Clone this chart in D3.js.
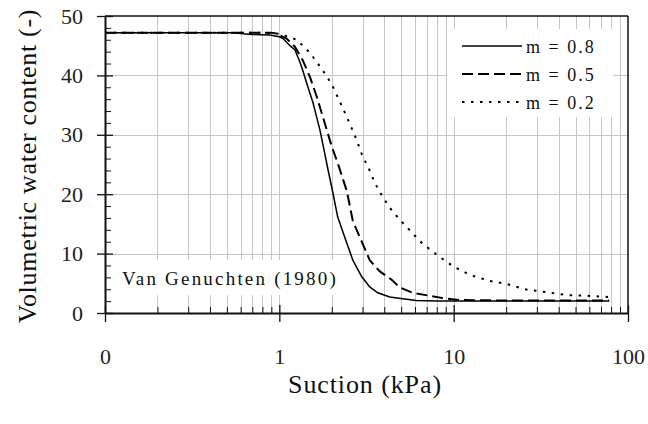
<!DOCTYPE html>
<html><head><meta charset="utf-8">
<script src="https://cdn.jsdelivr.net/npm/d3@7/dist/d3.min.js"></script>
<style>
body{margin:0;background:#fff}
svg{display:block}
</style></head>
<body><svg id="chart" width="648" height="424"></svg>
<script>
// ---- data ----
const xTickValues = [0.1, 1, 10, 100];
const xTickLabels = ["0", "1", "10", "100"];
const yTickValues = [0, 10, 20, 30, 40, 50];
const seriesNames = ["m = 0.8", "m = 0.5", "m = 0.2"];
const annotation = "Van Genuchten (1980)";

const suctionM08 = [0.1, 0.55, 0.62, 0.70, 0.88, 1.0, 1.05, 1.15, 1.23, 1.31, 1.36, 1.46, 1.56, 1.71, 1.82, 1.90, 2.03, 2.16, 2.37, 2.64, 2.97, 3.30, 3.67, 4.30, 5.1, 6.1, 8.0, 10, 20, 40, 78];
const thetaM08   = [47.2, 47.2, 47.0, 46.9, 46.8, 46.5, 46.2, 45.0, 44.3, 42.3, 40.9, 38.0, 35.4, 30.8, 26.9, 24.2, 20.2, 16.2, 12.8, 8.9, 6.1, 4.4, 3.4, 2.7, 2.4, 2.1, 2.0, 2.0, 2.0, 2.0, 2.0];

const suctionM05 = [0.1, 0.9, 0.97, 1.1, 1.23, 1.36, 1.50, 1.64, 1.82, 2.00, 2.16, 2.44, 2.64, 2.97, 3.30, 3.77, 4.41, 4.91, 5.82, 7.28, 9.12, 10.8, 20, 40, 78];
const thetaM05   = [47.2, 47.2, 47.0, 46.2, 44.8, 42.6, 39.7, 36.4, 32.0, 28.0, 25.3, 20.5, 15.5, 12.0, 8.9, 7.0, 5.6, 4.3, 3.4, 2.9, 2.4, 2.2, 2.1, 2.1, 2.1];

const suctionM02 = [0.1, 0.8, 1.0, 1.26, 1.50, 1.77, 2.00, 2.22, 2.44, 2.78, 3.01, 3.22, 3.53, 3.92, 4.41, 4.91, 5.74, 6.56, 8.0, 9.87, 12.4, 16.1, 20.1, 25.5, 34.1, 45.0, 57.8, 78];
const thetaM02   = [47.2, 47.2, 47.0, 46.0, 43.8, 40.9, 38.5, 35.6, 33.0, 29.1, 26.3, 24.7, 21.9, 19.5, 17.3, 15.7, 13.6, 11.8, 9.8, 7.9, 6.4, 5.4, 4.9, 4.0, 3.5, 3.0, 2.9, 2.7];

const seriesSuction = [suctionM08, suctionM05, suctionM02];
const seriesTheta = [thetaM08, thetaM05, thetaM02];
const seriesDash = [null, "11,5", "2.5,6.5"];
const seriesWidth = [1.5, 2, 2];

// ---- layout ----
const FONT = "'Liberation Serif', 'Times New Roman', serif";
const svg = d3.select("#chart");
const L = 105, R = 628, T = 16, B = 313;
const x = d3.scaleLog().domain([0.1, 100]).range([L, R]);
const y = d3.scaleLinear().domain([0, 50]).range([B, T]);

const xMinor = [];
for (let d = 0.1; d < 100; d *= 10) for (let k = 2; k <= 9; k++) xMinor.push(+(d * k).toPrecision(3));
const yMinor = d3.range(0, 51, 2).filter(v => v % 10 !== 0);

// grid
const grid = svg.append("g").attr("stroke", "#c6c6c6").attr("stroke-width", 1).attr("shape-rendering", "crispEdges");
grid.selectAll(".vx").data(xMinor.concat([1, 10])).enter().append("line")
  .attr("x1", d => Math.round(x(d)) + 0.5).attr("x2", d => Math.round(x(d)) + 0.5)
  .attr("y1", T).attr("y2", B);
grid.selectAll(".hy").data([10, 20, 30, 40]).enter().append("line")
  .attr("x1", L).attr("x2", R)
  .attr("y1", d => Math.round(y(d)) + 0.5).attr("y2", d => Math.round(y(d)) + 0.5);

// white boxes for legend and annotation
svg.append("rect").attr("x", 447).attr("y", 29).attr("width", 166).attr("height", 88).attr("fill", "#fff");
svg.append("rect").attr("x", 107).attr("y", 260).attr("width", 234).attr("height", 35).attr("fill", "#fff");

// curves
const line = d3.line().x(d => x(d[0])).y(d => y(d[1]));
seriesSuction.forEach((s, i) => {
  const pts = s.map((v, j) => [v, seriesTheta[i][j]]);
  svg.append("path").datum(pts).attr("d", line)
    .attr("fill", "none").attr("stroke", "#000")
    .attr("stroke-width", seriesWidth[i])
    .attr("stroke-dasharray", seriesDash[i]);
});

// frame top/right
svg.append("line").attr("x1", L).attr("x2", R).attr("y1", T).attr("y2", T).attr("stroke", "#111").attr("stroke-width", 1.5);
svg.append("line").attr("x1", R).attr("x2", R).attr("y1", T).attr("y2", B).attr("stroke", "#111").attr("stroke-width", 1.5);

// axes
const fmtX = d => xTickLabels[xTickValues.indexOf(d)];
const axStyle = g => { g.select(".domain").attr("stroke", "#111").attr("stroke-width", 2); g.selectAll(".tick line").attr("stroke", "#111").attr("stroke-width", 1.3); };

const gx = svg.append("g").attr("transform", `translate(0,${B})`)
  .call(d3.axisBottom(x).tickValues(xTickValues).tickFormat(fmtX).tickSizeInner(9).tickSizeOuter(0).tickPadding(26));
axStyle(gx);
gx.attr("font-family", FONT);
gx.selectAll(".tick text").attr("font-size", 22).attr("font-family", FONT).attr("fill", "#222");
svg.append("g").attr("transform", `translate(0,${B})`)
  .call(d3.axisTop(x).tickValues(xTickValues).tickFormat("").tickSizeInner(8).tickSizeOuter(0))
  .call(g => { g.select(".domain").remove(); g.selectAll(".tick line").attr("stroke", "#111").attr("stroke-width", 1.3); });
svg.append("g").attr("transform", `translate(0,${B})`)
  .call(d3.axisTop(x).tickValues(xMinor).tickFormat("").tickSizeInner(6).tickSizeOuter(0))
  .call(g => { g.select(".domain").remove(); g.selectAll(".tick line").attr("stroke", "#111").attr("stroke-width", 1); });

const gy = svg.append("g").attr("transform", `translate(${L},0)`)
  .call(d3.axisLeft(y).tickValues(yTickValues).tickFormat(d3.format("d")).tickSizeInner(8).tickSizeOuter(0).tickPadding(14));
axStyle(gy);
gy.attr("font-family", FONT);
gy.selectAll(".tick text").attr("font-size", 22).attr("font-family", FONT).attr("fill", "#222");
svg.append("g").attr("transform", `translate(${L},0)`)
  .call(d3.axisRight(y).tickValues(yTickValues).tickFormat("").tickSizeInner(8).tickSizeOuter(0))
  .call(g => { g.select(".domain").remove(); g.selectAll(".tick line").attr("stroke", "#111").attr("stroke-width", 1.3); });
svg.append("g").attr("transform", `translate(${L},0)`)
  .call(d3.axisRight(y).tickValues(yMinor).tickFormat("").tickSizeInner(6).tickSizeOuter(0))
  .call(g => { g.select(".domain").remove(); g.selectAll(".tick line").attr("stroke", "#111").attr("stroke-width", 1); });

// axis titles
svg.append("text").attr("x", 365).attr("y", 393).attr("text-anchor", "middle").attr("font-family", FONT).attr("fill", "#111")
  .attr("font-size", 26).attr("letter-spacing", 0.9).text("Suction (kPa)");
svg.append("text").attr("transform", "translate(36,166) rotate(-90)").attr("text-anchor", "middle").attr("font-family", FONT).attr("fill", "#111")
  .attr("font-size", 26).attr("letter-spacing", 0.7).text("Volumetric water content (-)");

// annotation
svg.append("text").attr("x", 122).attr("y", 285).attr("font-family", FONT).attr("fill", "#111")
  .attr("font-size", 19).attr("letter-spacing", 2.2).text(annotation);

// legend
seriesNames.forEach((n, i) => {
  const ly = 46 + i * 28;
  svg.append("line").attr("x1", 462).attr("x2", 522).attr("y1", ly).attr("y2", ly)
    .attr("stroke", "#000").attr("stroke-width", seriesWidth[i]).attr("stroke-dasharray", seriesDash[i]);
  svg.append("text").attr("x", 526).attr("y", ly + 7).attr("font-family", FONT).attr("fill", "#111")
    .attr("font-size", 18).attr("letter-spacing", 2).text(n);
});
</script></body></html>
